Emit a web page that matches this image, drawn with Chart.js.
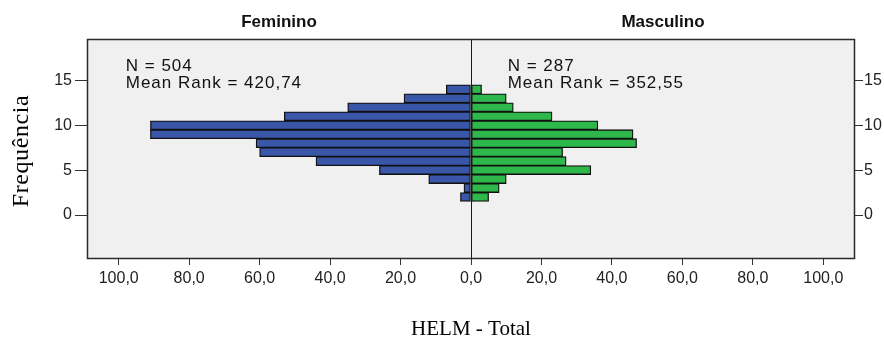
<!DOCTYPE html>
<html>
<head>
<meta charset="utf-8">
<script src="https://cdn.jsdelivr.net/npm/chart.js@4.4.0/dist/chart.umd.min.js"></script>
<style>
  html, body { margin: 0; padding: 0; background: #ffffff; }
  #wrap { width: 884px; height: 342px; }
</style>
</head>
<body>
<div id="wrap"><canvas id="c" width="884" height="342"></canvas></div>
<script>
// HELM total score per bin, with counts for each sex
const scores    = [14, 13, 12, 11, 10, 9, 8, 7, 6, 5, 4, 3, 2];
const feminino  = [7, 19, 35, 53, 91, 91, 61, 60, 44, 26, 12, 2, 3];
const masculino = [3, 10, 12, 23, 36, 46, 47, 26, 27, 34, 10, 8, 5];

const freqTicks  = [-100, -80, -60, -40, -20, 0, 20, 40, 60, 80, 100];
const scoreTicks = [0, 5, 10, 15];

const groups     = ['Feminino', 'Masculino'];
const groupStats = [['N = 504', 'Mean Rank = 420,74'], ['N = 287', 'Mean Rank = 352,55']];

const SANS  = '"Liberation Sans", Arial, sans-serif';
const SERIF = '"Liberation Serif", "Times New Roman", serif';

const fmtFreq = v => Math.abs(v).toFixed(1).replace('.', ',');

const pyramidDecor = {
  id: 'pyramidDecor',
  beforeDraw(chart) {
    const { ctx, chartArea: a } = chart;
    ctx.save();
    ctx.fillStyle = '#ffffff';
    ctx.fillRect(0, 0, chart.width, chart.height);
    ctx.fillStyle = '#f0f0f0';
    ctx.fillRect(a.left, a.top, a.right - a.left, a.bottom - a.top);
    ctx.restore();
  },
  afterDatasetsDraw(chart) {
    const { ctx, chartArea: a, scales } = chart;
    const x0 = Math.round(scales.x.getPixelForValue(0)) + 0.5;
    ctx.save();
    ctx.strokeStyle = '#1a1a1a';
    ctx.lineWidth = 1;
    ctx.beginPath();
    ctx.moveTo(x0, a.top);
    ctx.lineTo(x0, a.bottom);
    ctx.stroke();
    ctx.restore();
  },
  afterDraw(chart) {
    const { ctx, chartArea: a, scales } = chart;
    const x0 = scales.x.getPixelForValue(0);
    ctx.save();
    // frame
    ctx.strokeStyle = '#2a2a2a';
    ctx.lineWidth = 1.5;
    ctx.strokeRect(a.left + 0.5, a.top + 0.5, a.right - a.left - 1, a.bottom - a.top - 1);

    // panel headings
    ctx.fillStyle = '#111';
    ctx.font = 'bold 17px ' + SANS;
    ctx.textAlign = 'center';
    ctx.textBaseline = 'alphabetic';
    ctx.fillText(groups[0], (a.left + x0) / 2, 27);
    ctx.fillText(groups[1], (x0 + a.right) / 2, 27);

    // group statistics
    ctx.font = '17px ' + SANS;
    ctx.textAlign = 'left';
    if ('letterSpacing' in ctx) ctx.letterSpacing = '1px';
    const starts = [scales.x.getPixelForValue(-98), scales.x.getPixelForValue(10.4)];
    starts.forEach((sx, i) => {
      ctx.fillText(groupStats[i][0], sx, 71);
      ctx.fillText(groupStats[i][1], sx, 88);
    });
    if ('letterSpacing' in ctx) ctx.letterSpacing = '0px';

    // axis titles
    ctx.fillStyle = '#000';
    ctx.font = '21px ' + SERIF;
    ctx.textAlign = 'center';
    ctx.textBaseline = 'middle';
    ctx.fillText('HELM - Total', x0, 329);
    ctx.save();
    ctx.translate(22, 151);
    ctx.rotate(-Math.PI / 2);
    ctx.font = '24px ' + SERIF;
    if ('letterSpacing' in ctx) ctx.letterSpacing = '0.6px';
    ctx.fillText('Frequência', 0, 0);
    ctx.restore();
    ctx.restore();
  }
};

const yScaleBase = {
  type: 'linear',
  min: -4.9,
  max: 19.6,
  offset: false,
  afterBuildTicks: s => { s.ticks = scoreTicks.map(v => ({ value: v })); },
  border: { display: false },
};

new Chart(document.getElementById('c'), {
  type: 'bar',
  data: {
    datasets: [
      {
        label: groups[0],
        data: scores.map((s, i) => ({ x: -feminino[i], y: s })),
        backgroundColor: '#3a56a8',
        borderColor: '#111111',
      },
      {
        label: groups[1],
        data: scores.map((s, i) => ({ x: masculino[i], y: s })),
        backgroundColor: '#2eb84b',
        borderColor: '#111111',
      }
    ]
  },
  options: {
    indexAxis: 'y',
    responsive: false,
    animation: false,
    devicePixelRatio: 1,
    layout: { padding: { top: 39, left: 0, right: 0, bottom: 0 } },
    datasets: {
      bar: {
        grouped: false,
        borderWidth: 1.3,
        borderSkipped: false,
        categoryPercentage: 1,
        barPercentage: 1,
      }
    },
    plugins: {
      legend: { display: false },
      tooltip: { enabled: false },
      title: { display: false },
    },
    scales: {
      x: {
        type: 'linear',
        min: -109,
        max: 109,
        afterBuildTicks: s => { s.ticks = freqTicks.map(v => ({ value: v })); },
        afterFit: s => { s.height = 83; },
        grid: { drawOnChartArea: false, tickLength: 6, tickColor: '#333', color: '#333' },
        border: { display: false },
        ticks: {
          callback: v => fmtFreq(v),
          font: { family: SANS, size: 16 },
          color: '#222',
          padding: 4,
          maxRotation: 0,
          autoSkip: false,
        }
      },
      y: Object.assign({}, yScaleBase, {
        position: 'left',
        afterFit: s => { s.width = 87; },
        grid: { offset: false, drawOnChartArea: false, tickLength: 12, tickColor: '#333', color: '#333' },
        ticks: { font: { family: SANS, size: 16 }, color: '#222', padding: 3 }
      }),
      y2: Object.assign({}, yScaleBase, {
        position: 'right',
        afterFit: s => { s.width = 29; },
        grid: { offset: false, drawOnChartArea: false, tickLength: 8, tickColor: '#333', color: '#333' },
        ticks: { font: { family: SANS, size: 16 }, color: '#222', padding: 1 }
      })
    }
  },
  plugins: [pyramidDecor]
});
</script>
</body>
</html>
